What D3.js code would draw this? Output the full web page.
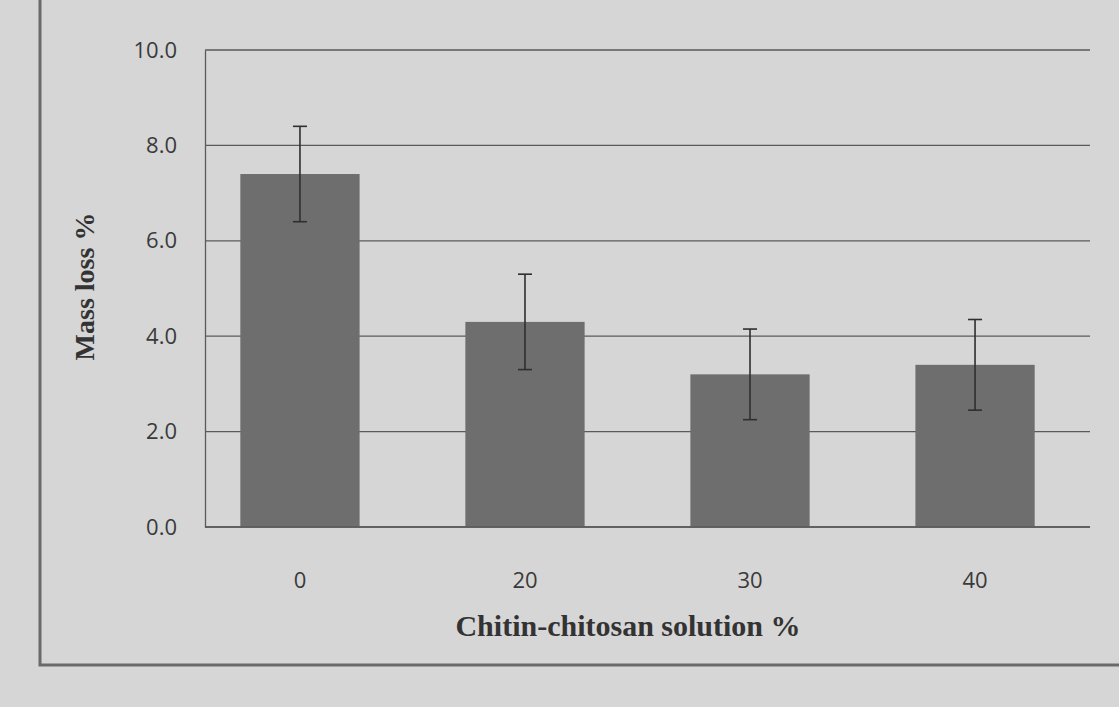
<!DOCTYPE html>
<html><head><meta charset="utf-8">
<script src="https://cdn.jsdelivr.net/npm/d3@7"></script>
<style>
html,body{margin:0;padding:0;background:#d6d6d6;}
svg{display:block;}
</style></head>
<body>
<svg id="chart" width="1119" height="707"></svg>
<script>
const categories = ["0", "20", "30", "40"];
const massLoss = [7.4, 4.3, 3.2, 3.4];
const errors = [1.0, 1.0, 0.95, 0.95];
const yTicks = [0, 2, 4, 6, 8, 10];
const xTitle = "Chitin-chitosan solution %";
const yTitle = "Mass loss %";

const svg = d3.select("#chart");
const W = 1119, H = 707;
const m = {left: 205, right: 1090, top: 50, bottom: 527};

svg.append("rect").attr("width", W).attr("height", H).attr("fill", "#d6d6d6");
// outer frame
svg.append("path")
  .attr("d", `M40,-5 L40,665 L1125,665`)
  .attr("fill", "none").attr("stroke", "#6a6a6a").attr("stroke-width", 3);

const x = d3.scaleBand().domain(categories).range([m.left, 1070]).paddingInner(0.47).paddingOuter(0.157);
const y = d3.scaleLinear().domain([0, 10]).range([m.bottom, m.top]);

// gridlines
svg.append("g").selectAll("line").data(yTicks).join("line")
  .attr("x1", m.left).attr("x2", m.right)
  .attr("y1", d => y(d)).attr("y2", d => y(d))
  .attr("stroke", "#5a5a5a").attr("stroke-width", 1.3);

// y axis
const yAxis = svg.append("g").attr("transform", `translate(${m.left},0)`)
  .call(d3.axisLeft(y).tickValues(yTicks).tickFormat(d3.format(".1f")).tickSize(0).tickPadding(28));
yAxis.select(".domain").attr("stroke", "#5a5a5a").attr("stroke-width", 1.3);
yAxis.selectAll("text").attr("font-family", "'Open Sans', sans-serif").attr("font-size", 22).attr("fill", "#3a3a3a");

// bars
svg.append("g").selectAll("rect").data(categories).join("rect")
  .attr("x", d => x(d)).attr("width", x.bandwidth())
  .attr("y", (d, i) => y(massLoss[i])).attr("height", (d, i) => y(0) - y(massLoss[i]))
  .attr("fill", "#6e6e6e");

// error bars
const eg = svg.append("g").attr("stroke", "#2f2f2f").attr("stroke-width", 1.6);
categories.forEach((c, i) => {
  const cx = x(c) + x.bandwidth() / 2;
  const hi = y(massLoss[i] + errors[i]), lo = y(massLoss[i] - errors[i]);
  eg.append("line").attr("x1", cx).attr("x2", cx).attr("y1", hi).attr("y2", lo);
  eg.append("line").attr("x1", cx - 7).attr("x2", cx + 7).attr("y1", hi).attr("y2", hi);
  eg.append("line").attr("x1", cx - 7).attr("x2", cx + 7).attr("y1", lo).attr("y2", lo);
});

// x axis
const xAxis = svg.append("g").attr("transform", `translate(0,${m.bottom})`)
  .call(d3.axisBottom(x).tickSize(0).tickPadding(45));
xAxis.select(".domain").attr("x2", m.right);
svg.append("line").attr("x1", m.left).attr("x2", m.right).attr("y1", m.bottom).attr("y2", m.bottom)
  .attr("stroke", "#5a5a5a").attr("stroke-width", 1.3);
xAxis.select(".domain").remove();
xAxis.selectAll("text").attr("font-family", "'Open Sans', sans-serif").attr("font-size", 22).attr("fill", "#3a3a3a");

// titles
svg.append("text").attr("x", 628).attr("y", 636)
  .attr("text-anchor", "middle").attr("font-family", "'Liberation Serif', serif")
  .attr("font-weight", "bold").attr("font-size", 30).attr("fill", "#333").text(xTitle);
svg.append("text").attr("transform", `translate(94,${(m.top + m.bottom) / 2 - 2}) rotate(-90)`)
  .attr("text-anchor", "middle").attr("font-family", "'Liberation Serif', serif")
  .attr("font-weight", "bold").attr("font-size", 28).attr("fill", "#333").text(yTitle);
</script>
</body></html>
